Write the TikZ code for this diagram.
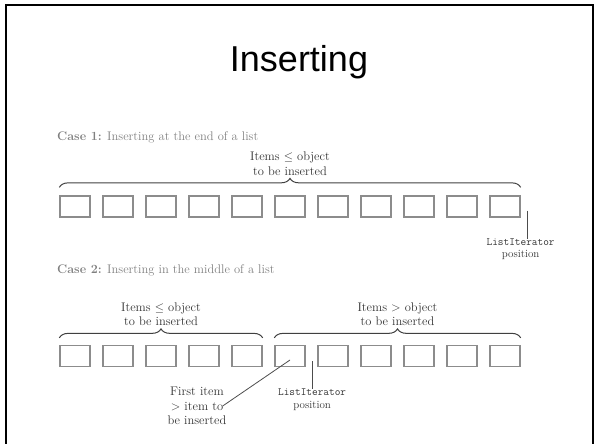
\documentclass[tikz,border=0pt]{standalone}
\usepackage{fontspec}
\setsansfont{Liberation Sans}
\usetikzlibrary{positioning,decorations.pathreplacing}

\tikzset{
  cell/.style={draw=black!45, line width=1.3pt, minimum width=30pt, minimum height=21pt, inner sep=0pt},
  brace/.style={decorate, decoration={brace, amplitude=9pt}, draw=black!75, line width=1pt},
  lbl/.style={align=center, font=\fontsize{12.5}{14.5}\selectfont, text=black!80, inner sep=0pt},
  caselbl/.style={anchor=base west, font=\fontsize{12.5}{14.5}\selectfont, text=black!50, inner sep=0pt},
  iterlbl/.style={align=center, font=\fontsize{11}{12.5}\selectfont, text=black!80, inner sep=0pt},
  tick/.style={draw=black!70, line width=0.8pt}
}

\begin{document}
\begin{tikzpicture}[x=1pt, y=-1pt]
\useasboundingbox (0,0) rectangle (595,444);
\draw[line width=2pt] (6,460) -- (6,5) -- (593,5) -- (593,460);
\node[font=\sffamily\fontsize{36}{40}\selectfont, anchor=base] (title) at (299,72) {Inserting};

% case 1: the new item goes after the last one
\node[caselbl] (case1) at (57,140) {\textbf{Case 1:} Inserting at the end of a list};
\foreach \i in {1,...,11}
  \node[cell] (a\i) at ({75+43*(\i-1)},206.5) {};
\draw[brace] ([yshift=8pt]a1.north west) -- ([yshift=8pt]a11.north east) coordinate[midway] (tipA);
\node[lbl, anchor=south] (allLe) at ([yshift=12pt]tipA) {Items $\le$ object\\to be inserted};
\coordinate (tickA) at ([xshift=7pt,yshift=-4pt]a11.east);
\node[iterlbl, anchor=north] (iterA) at ([xshift=-7pt,yshift=-28pt]tickA) {\texttt{ListIterator}\\position};
\draw[tick] (tickA) -- (tickA |- iterA.north);

% case 2: the new item goes before the first larger one
\node[caselbl] (case2) at (57,273) {\textbf{Case 2:} Inserting in the middle of a list};
\foreach \i in {1,...,11}
  \node[cell] (b\i) at ({75+43*(\i-1)},356) {};
\draw[brace] ([yshift=7pt]b1.north west) -- ([yshift=7pt]b5.north east) coordinate[midway] (tipB);
\draw[brace] ([yshift=7pt]b6.north west) -- ([yshift=7pt]b11.north east) coordinate[midway] (tipC);
\node[lbl, anchor=south] (leftLe) at ([yshift=12pt]tipB) {Items $\le$ object\\to be inserted};
\node[lbl, anchor=south] (rightGt) at ([yshift=12pt]tipC) {Items > object\\to be inserted};
\coordinate (tickB) at ([xshift=6.5pt,yshift=-5pt]b6.east);
\node[iterlbl, anchor=north] (iterB) at ([yshift=-28pt]tickB) {\texttt{ListIterator}\\position};
\draw[tick] (tickB) -- (iterB.north);
\node[lbl, anchor=north] (first) at (197,387) {First item\\> item to\\be inserted};
\draw[tick] ([yshift=-4pt]b6.center) -- ([xshift=-4pt]first.east);
\end{tikzpicture}
\end{document}
